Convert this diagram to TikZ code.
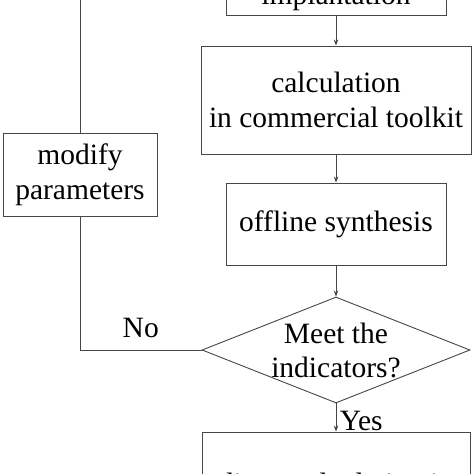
\documentclass[tikz,border=0pt]{standalone}
\usepackage{fontspec}
\setmainfont{Liberation Serif}
\usetikzlibrary{shapes.geometric,arrows.meta,positioning,calc}
\definecolor{linegray}{RGB}{70,70,70}

\begin{document}
\begin{tikzpicture}[x=1pt,y=-1pt,
    box/.style={draw=linegray, line width=0.9pt, inner sep=0pt, align=center, font=\fontsize{29.5}{35}\selectfont},
    decision/.style={diamond, draw=linegray, line width=0.9pt, inner sep=0pt, aspect=2.53},
    flow/.style={draw=linegray, line width=0.9pt, -{Stealth[length=6pt,width=4.5pt]}},
    link/.style={draw=linegray, line width=0.9pt},
    tag/.style={font=\fontsize{29.5}{34}\selectfont, align=center}]
    \useasboundingbox (0,0) rectangle (474,474);

    % Process boxes
    \node[box, minimum width=220pt, minimum height=36pt] (impl) at (336,-3) {implantation};
    \node[box, minimum width=270pt, minimum height=108pt] (calc) at (336,100) {calculation\\in commercial toolkit};
    \node[box, minimum width=220pt, minimum height=82pt] (synth) at (336,224) {offline synthesis};
    \node[decision, minimum width=268pt, minimum height=106pt] (check) at (336,350) {};
    \node[tag] (checktext) at (check) {Meet the\\indicators?};
    \node[box, minimum width=268pt, minimum height=102pt] (direct) at (336,483) {direct calculation in};

    % Feedback box
    \node[box, minimum width=154pt, minimum height=83pt] (modify) at (80,174.5) {modify\\parameters};
    \coordinate (bend) at (80,350);
    \coordinate (up) at (80,-20);

    % Arrows
    \draw[flow] (impl) -- (calc);
    \draw[flow] (calc) -- (synth);
    \draw[flow] (synth) -- (check);
    \draw[flow] (check) -- node[tag, right, yshift=-3pt] {Yes} (direct);

    % Loop back
    \draw[link] (check.west) -- node[tag, above=8pt] {No} (bend) -- (modify.south);
    \draw[link] (modify.north) -- (up);
\end{tikzpicture}
\end{document}
